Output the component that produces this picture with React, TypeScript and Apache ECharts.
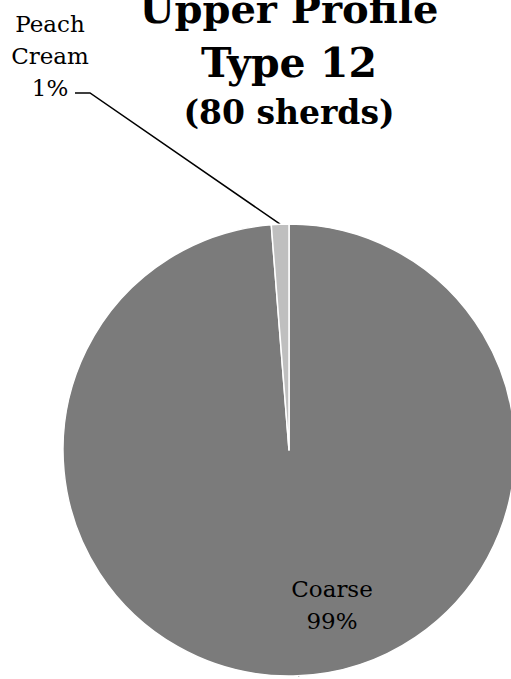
import React, { useEffect, useRef } from "react";
import * as echarts from "echarts";

const categories = ["Coarse", "Peach Cream"];
const values = [79, 1];
const percentLabels = ["99%", "1%"];
const titleLines = ["Upper Profile", "Type 12"];
const subtitle = "(80 sherds)";
const colors = ["#7b7b7b", "#bfbfbf"];

export default function App() {
  const ref = useRef<HTMLDivElement>(null);
  useEffect(() => {
    if (!ref.current) return;
    const chart = echarts.init(ref.current, null, { renderer: "svg" });
    const cx = 289;
    const font = "DejaVu Serif";
    chart.setOption({
      animation: false,
      backgroundColor: "#ffffff",
      graphic: [
        {
          type: "text",
          x: cx,
          y: 8,
          style: {
            text: titleLines[0],
            font: `bold 40px "${font}"`,
            fill: "#000",
            align: "center",
            verticalAlign: "middle",
          },
        },
        {
          type: "text",
          x: cx,
          y: 63,
          style: {
            text: titleLines[1],
            font: `bold 41px "${font}"`,
            fill: "#000",
            align: "center",
            verticalAlign: "middle",
          },
        },
        {
          type: "text",
          x: cx,
          y: 112,
          style: {
            text: subtitle,
            font: `bold 33px "${font}"`,
            fill: "#000",
            align: "center",
            verticalAlign: "middle",
          },
        },
      ],
      series: [
        {
          type: "pie",
          center: [cx, 450],
          radius: 226,
          startAngle: 90,
          clockwise: true,
          silent: true,
          data: categories.map((c, i) => ({
            name: c,
            value: values[i],
            itemStyle: { color: colors[i], borderColor: "#ffffff", borderWidth: 1.5 },
          })),
          label: {
            show: true,
            position: "outside",
            formatter: (p: any) => `${p.name.replace(" ", "\n")}\n${percentLabels[p.dataIndex]}`,
            fontFamily: font,
            fontSize: 23,
            color: "#000",
            lineHeight: 32,
            align: "center",
          },
          labelLine: {
            show: true,
            lineStyle: { color: "#000", width: 1.5 },
          },
          labelLayout: (params: any) => {
            if (params.dataIndex === 0) {
              return { x: 332, y: 605, align: "center", verticalAlign: "middle" };
            }
            const start = params.labelLinePoints ? params.labelLinePoints[0] : [280, 224];
            return {
              x: 50,
              y: 56,
              align: "center",
              verticalAlign: "middle",
              labelLinePoints: [start, [90, 93], [75, 93]],
            };
          },
        },
      ],
    });
    return () => chart.dispose();
  }, []);
  return (
    <div
      ref={ref}
      style={{ position: "fixed", left: 0, top: 0, width: 511, height: 679 }}
    />
  );
}
